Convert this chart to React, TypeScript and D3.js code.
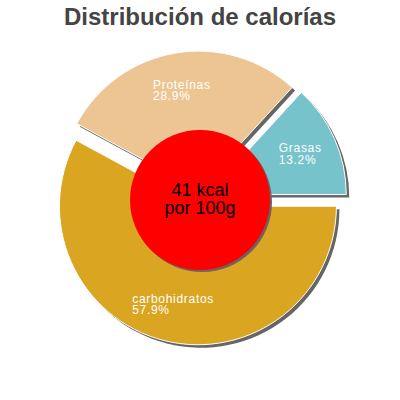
import React, { useEffect, useRef } from "react";
import * as d3 from "d3";

const categories = ["carbohidratos", "Proteínas", "Grasas"];
const values = [57.9, 28.9, 13.2];
const labels = ["57.9%", "28.9%", "13.2%"];
const colors = ["#daa520", "#edc592", "#77c3cb"];
const title = "Distribución de calorías";
const centerLines = ["41 kcal", "por 100g"];

const W = 400;
const H = 400;
const CX = 200;
const CY = 198;
const R = 138.5;
const SLICE = 8.5;
const LABEL_R = 101;

export default function App() {
  const ref = useRef<SVGSVGElement | null>(null);

  useEffect(() => {
    const svg = d3.select(ref.current);
    svg.selectAll("*").remove();

    svg
      .append("text")
      .attr("x", W / 2)
      .attr("y", 25)
      .attr("text-anchor", "middle")
      .attr("font-family", "Liberation Sans, Arial, sans-serif")
      .attr("font-weight", "bold")
      .attr("font-size", 24)
      .attr("fill", "#444444")
      .text(title);

    const pie = d3
      .pie<number>()
      .sort(null)
      .startAngle(Math.PI / 2)
      .endAngle(Math.PI / 2 + 2 * Math.PI);
    const arcs = pie(values);
    const arc = d3.arc<d3.PieArcDatum<number>>().innerRadius(0).outerRadius(R);

    const off = (a: d3.PieArcDatum<number>) => {
      const m = (a.startAngle + a.endAngle) / 2;
      return [Math.sin(m) * SLICE, -Math.cos(m) * SLICE];
    };

    const g = svg.append("g").attr("transform", `translate(${CX},${CY})`);

    // shadows
    g.selectAll("path.shadow")
      .data(arcs)
      .join("path")
      .attr("class", "shadow")
      .attr("d", (d) => arc(d) as string)
      .attr("fill", "#666666")
      .attr("transform", (d) => {
        const [dx, dy] = off(d);
        return `translate(${dx + 3},${dy + 3})`;
      });

    g.selectAll("path.slice")
      .data(arcs)
      .join("path")
      .attr("class", "slice")
      .attr("d", (d) => arc(d) as string)
      .attr("fill", (_, i) => colors[i])
      .attr("stroke", "#ffffff")
      .attr("stroke-width", 1)
      .attr("stroke-linejoin", "round")
      .attr("transform", (d) => {
        const [dx, dy] = off(d);
        return `translate(${dx},${dy})`;
      });

    // labels
    arcs.forEach((a, i) => {
      const m = (a.startAngle + a.endAngle) / 2;
      const [dx, dy] = off(a);
      const lx = dx + Math.sin(m) * LABEL_R;
      const ly = dy - Math.cos(m) * LABEL_R;
      const t = g
        .append("text")
        .attr("font-family", "Liberation Sans, Arial, sans-serif")
        .attr("font-size", 12)
        .attr("letter-spacing", 0.7)
        .attr("fill", "#ffffff");
      t.append("tspan").attr("x", 0).attr("y", -1.5).text(categories[i]);
      t.append("tspan").attr("x", 0).attr("y", 10).text(labels[i]);
      const node = t.node() as SVGTextElement;
      const bw = node.getBBox().width;
      t.attr("transform", `translate(${lx - bw / 2},${ly})`);
    });

    // center circle
    const c = svg.append("g").attr("transform", `translate(200,200)`);
    c.append("circle").attr("cx", 2).attr("cy", 2).attr("r", 70).attr("fill", "#666666");
    c.append("circle").attr("r", 70).attr("fill", "#ff0000");
    c.append("text")
      .attr("text-anchor", "middle")
      .attr("font-family", "Liberation Sans, Arial, sans-serif")
      .attr("font-size", 18)
      .attr("fill", "#000000")
      .selectAll("tspan")
      .data(centerLines)
      .join("tspan")
      .attr("x", 0)
      .attr("y", (_, i) => -4 + i * 17.5)
      .text((d) => d);
  }, []);

  return (
    <svg
      ref={ref}
      width={W}
      height={H}
      style={{ position: "absolute", left: 0, top: 0, background: "#ffffff" }}
    />
  );
}
